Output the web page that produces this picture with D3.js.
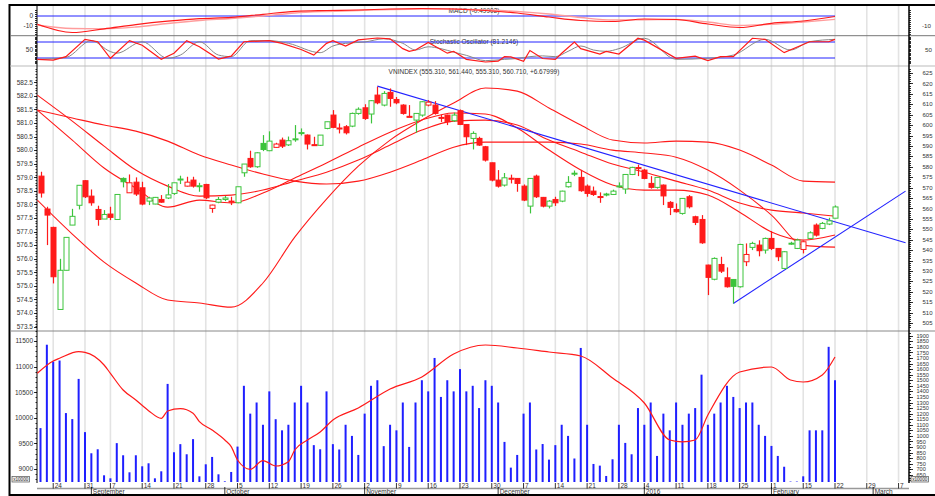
<!DOCTYPE html>
<html>
<head>
<meta charset="utf-8">
<script src="https://cdn.jsdelivr.net/npm/d3@7/dist/d3.min.js"></script>
<style>
  body { margin: 0; background: #fff; }
  text { font-family: "Liberation Sans", Arial, sans-serif; fill: #333; }
</style>
</head>
<body>
<svg id="chart" width="935" height="496"></svg>
<script>
// trading calendar (HOSE), holidays removed
const firstDay = "2015-08-20";
const lastDay = "2016-03-11";
const holidays = ["2015-09-02", "2016-01-01", "2016-02-08", "2016-02-09",
  "2016-02-10", "2016-02-11", "2016-02-12"];

// VNINDEX daily candles, one per trading day
const openP = [575.5,559.7,550.9,511.5,530.3,552.0,561.5,573.3,565.9,559.5,
  554.9,557.3,554.7,574.4,567.5,572.6,569.9,563.5,562.1,564.3,
  565.0,567.2,573.9,570.7,573.6,570.6,571.5,560.0,563.0,564.3,
  563.5,562.7,577.1,584.0,580.0,591.2,587.7,589.3,592.8,590.5,
  593.0,596.0,595.2,590.6,590.3,598.4,604.8,598.6,599.2,599.5,
  605.6,608.3,605.3,614.4,609.6,615.7,612.3,609.6,604.2,602.4,
  604.8,609.6,609.6,603.7,604.8,602.1,606.9,600.3,593.6,593.6,
  589.6,581.9,573.6,571.2,574.5,574.4,570.7,561.1,575.5,565.3,
  561.1,564.3,563.5,570.4,576.6,574.9,570.7,568.3,565.7,566.6,
  566.7,570.6,569.3,576.3,579.6,578.4,572.0,570.1,571.2,562.9,
  559.5,557.6,565.6,556.0,554.7,532.8,526.0,533.1,526.7,525.9,
  522.4,534.4,541.3,542.4,540.0,545.6,540.8,531.2,542.9,540.8,
  540.3,545.6,552.0,550.4,552.5,555.31];
const highP = [577.6,560.8,551.2,535.8,546.1,559.8,571.1,573.6,569.1,561.3,
  559.2,560.8,566.7,574.9,576.3,574.9,572.8,565.6,565.5,566.4,
  571.7,572.3,575.7,575.2,575.2,572.3,571.8,561.8,565.5,566.0,
  565.6,570.4,581.3,587.7,587.0,595.2,597.0,591.5,594.0,594.5,
  600.0,598.4,595.5,594.4,595.2,601.6,607.2,600.8,600.0,606.0,
  608.5,610.0,612.0,618.4,616.3,617.6,613.5,610.0,609.6,605.6,
  611.5,612.0,611.5,605.0,605.0,606.0,607.5,600.5,597.0,594.4,
  590.0,582.0,578.4,577.0,576.2,574.6,571.5,574.6,576.2,565.5,
  564.0,565.6,568.5,575.5,578.2,578.5,571.5,570.5,567.7,567.5,
  569.0,572.5,576.5,580.0,581.0,579.0,575.5,575.0,571.5,563.5,
  562.4,565.0,566.4,556.5,556.8,533.0,536.5,536.8,531.7,526.0,
  543.0,543.2,544.0,544.7,546.0,549.1,541.0,539.5,544.0,545.5,
  544.5,549.0,552.8,553.5,555.5,561.44];
const lowP = [565.2,542.4,524.0,511.5,530.3,552.0,559.5,565.0,561.3,551.7,
  554.9,554.4,554.7,570.1,567.5,566.0,561.5,561.6,562.0,562.7,
  564.5,566.5,571.7,570.5,570.0,568.0,564.5,557.9,562.5,563.5,
  561.6,562.5,575.2,579.5,579.5,587.5,587.5,589.0,589.0,590.0,
  592.0,595.0,588.3,590.0,590.0,598.0,598.5,596.0,595.5,599.0,
  605.0,602.5,600.8,610.0,609.0,608.8,610.0,605.0,603.8,596.3,
  604.0,609.0,605.0,601.5,600.0,601.5,600.0,590.4,588.3,590.0,
  582.5,573.0,570.0,570.5,572.0,568.0,563.5,557.6,565.0,560.5,
  560.0,561.2,563.0,570.0,575.5,568.0,565.6,566.0,562.7,565.8,
  566.5,570.0,567.0,576.0,575.5,574.0,569.5,569.5,561.6,556.8,
  558.0,557.0,560.0,552.0,543.0,518.4,525.5,529.0,522.0,514.4,
  522.0,532.3,540.0,537.0,538.3,540.0,534.7,531.0,542.5,540.5,
  538.4,545.5,546.5,550.0,552.0,555.31];
const closeP = [567.4,556.8,527.2,530.3,546.1,556.2,571.1,565.6,562.7,554.7,
  557.1,555.7,566.7,572.8,572.3,566.9,562.1,565.0,565.3,563.0,
  566.5,572.3,574.1,572.6,570.7,570.9,565.1,561.6,564.3,565.0,
  563.1,570.4,581.3,580.0,586.7,588.3,592.3,590.9,589.9,592.5,
  593.4,596.4,590.9,590.4,595.2,601.6,598.9,598.4,596.3,605.6,
  607.6,603.2,611.7,610.7,615.2,612.8,610.7,605.6,604.0,605.6,
  611.2,611.0,605.6,603.5,601.6,604.8,600.3,594.4,596.0,590.4,
  583.2,573.6,570.7,574.7,574.4,572.0,564.0,574.4,565.6,561.1,
  563.5,562.7,568.3,572.5,576.9,568.5,567.2,566.7,565.5,566.9,
  568.3,570.8,576.3,579.7,579.3,574.4,570.1,574.9,566.0,560.5,
  558.4,564.8,560.8,553.3,543.5,526.9,536.0,529.9,522.4,522.6,
  542.7,537.9,543.2,539.7,545.6,540.8,536.8,539.2,543.3,544.8,
  544.0,548.3,547.2,552.8,554.03,560.71];
// volume, x10000 shares
const volume = [1070,1819,1668,1677,1205,1151,1512,1034,844,880,
  646,619,935,826,673,826,727,754,619,682,
  1467,853,926,835,971,637,745,811,655,592,
  676,904,1450,1200,1300,1100,1400,1150,1050,1100,
  1300,1450,1300,917,880,1400,926,878,1100,1000,
  829,1200,1450,1500,908,1100,1050,1300,901,1300,
  1500,1400,1700,1350,1500,1400,1600,1400,1450,1250,
  1500,1450,1300,946,715,829,1200,1300,878,927,
  787,917,1100,1000,797,1790,1100,748,733,640,
  790,1100,937,835,1250,1100,1300,820,1200,1050,
  1300,1100,1200,1250,1550,1100,1200,1300,1450,1350,
  1250,1300,1300,1100,1000,910,820,723,590,590,
  637,1050,1050,1050,1800,1500];

// overlay curves read every 5 sessions (right price scale), first reading at the axis
const curveIdx = [-0.5,5,10,15,20,25,30,35,40,45,50,55,60,65,70,75,80,85,90,95,100,105,110,115,120,125];
const lineP = [564.0,547.7,534.2,524.2,516.0,514.6,512.6,524.2,546.2,564.5,580.3,592.8,602.4,
  610.6,617.8,616.3,608.2,600.0,592.8,591.4,592.3,591.8,588.0,580.8,573.1,572.6];
const lineA = [614.4,601.9,589.9,578.4,570.7,565.9,566.4,568.8,573.1,577.4,583.2,590.4,597.6,
  601.9,602.4,600.0,592.8,587.0,581.3,577.4,573.1,568.8,562.6,559.2,557.8,556.3];
const lineB = [607.2,603.4,600.0,597.1,592.3,585.6,580.8,576.5,573.1,571.7,573.1,577.4,583.2,
  589.4,591.8,591.8,591.8,590.9,588.0,586.6,584.6,578.4,568.8,556.8,542.4,541.4];
const lineC = [607.2,592.8,579.4,569.8,560.6,564.0,562.6,567.4,574.6,581.8,589.4,596.6,602.4,
  605.8,605.3,598.6,588.0,578.4,571.2,568.8,568.8,566.4,558.2,548.7,544.8,547.2];

// trend lines [session, price]
const trendDown = [[53, 618.7], [136.1, 543.5]];
const trendUp = [[109, 514.4], [136.1, 568.3]];

// MACD and signal
const macdLine = [-8.3,-16.5,-12.8,-8.6,-5.2,-2.6,-1.4,1.7,4.7,5.5,6,7,7.5,7,5.5,3,
  -1,-4.5,-5.5,-3,-3.5,-8,-11.5,-7.3,-5,-0.5];
const macdSignal = [-9,-12.5,-12.8,-11,-7.5,-4.5,-2.5,0,3,4.5,5.5,6.5,7,7,6,4.5,
  2,-1.5,-4,-3.8,-3.5,-6,-9.5,-8.3,-6,-3.3];

// stochastic %K and %D, read at turning points
const stochKIdx = [-0.5,2,4,7,9,11,14,16,19,21,23,25,28,30,32,36,38,41,43,45,46,48,50,53,55,57,
  58,59,61,64,65,67,70,72,73,74,76,77,79,81,82,84,85,88,89,91,94,95,100,103,105,107,109,112,
  114,117,121,124,125];
const stochK = [15,12,25,90,81,19,85,68,15,38,85,62,16,27,81,85,75,52,31,75,85,65,88,95,92,55,
  45,50,78,38,45,15,5,8,25,24,8,48,18,15,38,80,55,35,45,35,94,87,19,27,10,25,25,94,
  90,40,81,81,90];
const stochDIdx = [-0.5,4,8,11,12,16,20,22,25,28,30,33,36,39,44,46,48,51,54,57,59,61,63,65,67,
  70,73,75,77,79,81,83,85,87,89,91,95,100,105,109,114,118,121,125];
const stochD = [15,22,85,44,38,81,19,31,81,31,25,85,85,75,40,65,75,80,92,75,50,62,55,42,30,
  10,15,18,25,28,25,45,65,50,45,55,94,15,19,31,90,50,81,90];

// volume moving average (left volume scale)
const volMAIdx = [-0.5,2,3,6,7,10,11,13,15,17,19,20,22,24,25,27,29,30,31,33,35,37,39,40,42,44,46,
  50,55,60,65,70,75,80,85,90,95,99,101,103,105,110,115,118,120,123,125];
const volMA = [10870,11109,11162,11291,11279,11031,10869,10543,10348,10139,9990,10133,10178,
  10088,9924,9760,9566,9436,9176,8994,9162,9059,9143,9371,9566,9723,9957,10191,10562,10797,
  11246,11422,11363,11285,11207,10777,10289,9566,9530,9566,10055,10894,10992,10738,10699,
  10836,11187];

// axis label sets
const leftPriceTicks = d3.range(573.5, 582.51, 0.5);
const rightPriceTicks = d3.range(505, 625.1, 5);
const leftVolTicks = [9000, 9500, 10000, 10500, 11000, 11500];
const rightVolTicks = d3.range(650, 1901, 50);

const titles = {
  macd: "MACD (-0.49902)",
  stoch: "Stochastic Oscillator (81.2146)",
  price: "VNINDEX (555.310, 561.440, 555.310, 560.710, +6.67999)"
};

drawChart();

function drawChart() {
  const svg = d3.select("#chart");
  const plotL = 37, plotR = 909;
  const red = "#ff1a1a", green = "#3cc43c", blue = "#2323ff";

  const parse = d3.timeParse("%Y-%m-%d"), fmt = d3.timeFormat("%Y-%m-%d");
  const days = d3.timeDay.range(parse(firstDay), d3.timeDay.offset(parse(lastDay), 1))
    .filter(d => d.getDay() > 0 && d.getDay() < 6 && !holidays.includes(fmt(d)));

  const x = d3.scaleLinear().domain([0, 125]).range([40.5, 835]);
  const lastX = x(125);

  // panel scales
  const yMacd = d3.scaleLinear().domain([-10, 0]).range([26, 16]);
  const yStoch = d3.scaleLinear().domain([20, 80]).range([58, 42]);
  const yPrice = d3.scaleLinear().domain([505, 625]).range([323, 73]);
  const yLeft = d3.scaleLinear().domain([573.5, 582.5]).range([326.6, 82.3]);
  const yVol = d3.scaleLinear().domain([700, 1900]).range([469.3, 335.7]);
  const yVolMA = d3.scaleLinear().domain([9000, 11500]).range([469, 341]);
  const volBase = 482;

  // week grid
  const weekStarts = [], monthStarts = [];
  days.forEach((d, i) => {
    if (i === 0) return;
    if (d3.timeMonday.floor(d) > days[i - 1]) weekStarts.push(i);
    if (d.getMonth() !== days[i - 1].getMonth()) monthStarts.push(i);
  });
  const visibleWeeks = weekStarts.filter(i => x(i) < plotR - 2);

  svg.append("g").selectAll("line")
    .data(visibleWeeks)
    .join("line")
    .attr("x1", d => x(d)).attr("x2", d => x(d))
    .attr("y1", 6).attr("y2", volBase)
    .style("stroke", "#e3e3e3")
    .style("stroke-width", 1.6);

  // frame and separators
  const frame = svg.append("g");
  frame.append("line").attr("x1", 9).attr("x2", 935).attr("y1", 5).attr("y2", 5)
    .style("stroke", "#000").style("stroke-width", 2);
  frame.append("line").attr("x1", 9.5).attr("x2", 9.5).attr("y1", 4).attr("y2", 496)
    .style("stroke", "#000").style("stroke-width", 2);
  frame.append("line").attr("x1", 9).attr("x2", 935).attr("y1", 495).attr("y2", 495)
    .style("stroke", "#000").style("stroke-width", 2);
  [[35.7, "#777"], [66, "#bbb"], [331, "#888"]].forEach(([y, c]) => {
    frame.append("line").attr("x1", 10).attr("x2", 935).attr("y1", y).attr("y2", y)
      .style("stroke", c).style("stroke-width", 1);
  });

  // axes lines with dense ticks
  const axes = svg.append("g").style("stroke", "#000");
  axes.append("line").attr("x1", plotL).attr("x2", plotL).attr("y1", 5).attr("y2", 483);
  axes.append("line").attr("x1", plotR).attr("x2", plotR).attr("y1", 5).attr("y2", 483)
    .style("stroke-width", 1.5);

  function ticks(values, scale, side, len) {
    axes.append("g").selectAll("line")
      .data(values)
      .join("line")
      .attr("x1", side === "left" ? plotL - len : plotR)
      .attr("x2", side === "left" ? plotL : plotR + len)
      .attr("y1", d => Math.round(scale(d)) + 0.5)
      .attr("y2", d => Math.round(scale(d)) + 0.5)
      .style("stroke-width", 0.8);
  }
  ticks(d3.range(-18, 6.1, 2), yMacd, "left", 2);
  ticks(d3.range(0, 101, 5), yStoch, "left", 2);
  ticks(d3.range(573.5, 583.01, 0.1), yLeft, "left", 1.5);
  ticks(leftPriceTicks, yLeft, "left", 3);
  ticks(d3.range(8800, 11801, 100), yVolMA, "left", 1.5);
  ticks(leftVolTicks, yVolMA, "left", 3);
  ticks(d3.range(-18, 6.1, 2), yMacd, "right", 2);
  ticks(d3.range(0, 101, 5), yStoch, "right", 2);
  ticks(d3.range(503, 628, 1), yPrice, "right", 2);
  ticks(rightPriceTicks, yPrice, "right", 4);
  ticks(d3.range(600, 1926, 25), yVol, "right", 2);
  ticks(rightVolTicks, yVol, "right", 4);

  // axis labels
  const labels = svg.append("g").style("font-size", "6.5px");
  function leftLabels(values, scale, fmtFn) {
    labels.append("g").selectAll("text")
      .data(values)
      .join("text")
      .attr("x", 33).attr("y", d => scale(d) + 2.3)
      .attr("text-anchor", "end")
      .text(fmtFn);
  }
  leftLabels([0, -10], yMacd, d => d);
  leftLabels([50], yStoch, d => d);
  leftLabels(leftPriceTicks, yLeft, d => d3.format(".1f")(d));
  leftLabels(leftVolTicks, yVolMA, d => d);

  function rightLabels(values, scale, xPos, size) {
    labels.append("g").selectAll("text")
      .data(values)
      .join("text")
      .attr("x", xPos).attr("y", d => scale(d) + 2.1)
      .style("font-size", size)
      .text(d => d);
  }
  rightLabels([-10], yMacd, 922, "6.2px");
  rightLabels([50], yStoch, 925, "6.2px");
  rightLabels(rightPriceTicks, yPrice, 922.5, "6px");
  rightLabels(rightVolTicks, yVol, 916.5, "5.6px");

  // x10000 boxes
  [[12, 476.5], [911, 476.5]].forEach(([bx, by]) => {
    labels.append("rect").attr("x", bx).attr("y", by).attr("width", 17.5).attr("height", 5.5)
      .style("fill", "#eee").style("stroke", "#555").style("stroke-width", 0.7);
    labels.append("text").attr("x", bx + 8.75).attr("y", by + 4.5)
      .attr("text-anchor", "middle").style("font-size", "4.6px").text("x10000");
  });

  // panel titles
  labels.append("text").attr("x", 474).attr("y", 12.5).attr("text-anchor", "middle").text(titles.macd);
  labels.append("text").attr("x", 474).attr("y", 43.5).attr("text-anchor", "middle").text(titles.stoch);
  labels.append("text").attr("x", 474).attr("y", 73.5).attr("text-anchor", "middle").text(titles.price);

  // date axis
  const dateAxis = svg.append("g");
  dateAxis.append("line").attr("x1", plotL).attr("x2", plotR).attr("y1", 488.5).attr("y2", 488.5)
    .style("stroke", "#999").style("stroke-width", 1.5);
  dateAxis.selectAll(".wk")
    .data(visibleWeeks)
    .join("line")
    .attr("x1", d => x(d)).attr("x2", d => x(d))
    .attr("y1", 483).attr("y2", 488.5)
    .style("stroke", "#000").style("stroke-width", 0.8);
  dateAxis.selectAll(".wkText")
    .data(visibleWeeks)
    .join("text")
    .attr("x", d => x(d) + 1.5).attr("y", 488)
    .style("font-size", "6.5px")
    .text(d => days[d].getDate());
  const monthName = d3.timeFormat("%B");
  const visibleMonths = monthStarts.filter(i => x(i) < plotR);
  dateAxis.selectAll(".mo")
    .data(visibleMonths)
    .join("line")
    .attr("x1", d => x(d)).attr("x2", d => x(d))
    .attr("y1", 487).attr("y2", 495)
    .style("stroke", "#000").style("stroke-width", 0.8);
  dateAxis.selectAll(".moText")
    .data(visibleMonths)
    .join("text")
    .attr("x", d => x(d) + 1.5).attr("y", 494)
    .style("font-size", "6.5px")
    .text(d => days[d].getMonth() === 0 ? days[d].getFullYear() : monthName(days[d]));

  // reference lines
  const refs = svg.append("g").style("stroke", blue).style("stroke-width", 1);
  [[yMacd, 0], [yStoch, 80], [yStoch, 20]].forEach(([s, v]) => {
    refs.append("line").attr("x1", plotL).attr("x2", lastX)
      .attr("y1", s(v)).attr("y2", s(v));
  });

  // MACD
  const macdPath = d3.line().x((d, i) => x(curveIdx[i])).curve(d3.curveMonotoneX);
  svg.append("path").datum(macdSignal)
    .attr("d", macdPath.y(d => yMacd(d)))
    .style("fill", "none").style("stroke", "#ff9c9c").style("stroke-width", 1.3);
  svg.append("path").datum(macdLine)
    .attr("d", macdPath.y(d => yMacd(d)))
    .style("fill", "none").style("stroke", red).style("stroke-width", 1.2);

  // stochastic
  svg.append("path").datum(stochD)
    .attr("d", d3.line().x((d, i) => x(stochDIdx[i])).y(d => yStoch(d)).curve(d3.curveMonotoneX))
    .style("fill", "none").style("stroke", "#888").style("stroke-width", 1);
  svg.append("path").datum(stochK)
    .attr("d", d3.line().x((d, i) => x(stochKIdx[i])).y(d => yStoch(d)))
    .style("fill", "none").style("stroke", red).style("stroke-width", 1.2);

  // price panel
  svg.append("clipPath").attr("id", "priceClip")
    .append("rect").attr("x", plotL).attr("y", 67).attr("width", plotR - plotL).attr("height", 263);
  const price = svg.append("g").attr("clip-path", "url(#priceClip)");

  const overlay = d3.line().x((d, i) => x(curveIdx[i])).y(d => yPrice(d)).curve(d3.curveMonotoneX);
  [lineP, lineA, lineB, lineC].forEach(arr => {
    price.append("path").datum(arr).attr("d", overlay)
      .style("fill", "none").style("stroke", red).style("stroke-width", 1.1);
  });

  [trendDown, trendUp].forEach(t => {
    price.append("line")
      .attr("x1", x(t[0][0])).attr("y1", yPrice(t[0][1]))
      .attr("x2", x(t[1][0])).attr("y2", yPrice(t[1][1]))
      .style("stroke", blue).style("stroke-width", 1.1);
  });

  const candles = closeP.map((c, i) => {
    const prev = i > 0 ? closeP[i - 1] : openP[i];
    return { i, o: openP[i], h: highP[i], l: lowP[i], c,
      color: c >= prev ? green : red, filled: c < openP[i] };
  });
  const cg = price.append("g").selectAll("g")
    .data(candles)
    .join("g");
  cg.append("line")
    .attr("x1", d => Math.round(x(d.i)) + 0.5).attr("x2", d => Math.round(x(d.i)) + 0.5)
    .attr("y1", d => yPrice(d.h)).attr("y2", d => yPrice(d.l))
    .style("stroke", d => d.color).style("stroke-width", 1.2);
  cg.append("rect")
    .attr("x", d => Math.round(x(d.i)) - 2)
    .attr("y", d => yPrice(Math.max(d.o, d.c)))
    .attr("width", 5)
    .attr("height", d => Math.max(1, Math.abs(yPrice(d.o) - yPrice(d.c))))
    .style("fill", d => d.filled ? d.color : "#fff")
    .style("stroke", d => d.color).style("stroke-width", 1);

  // volume panel
  svg.append("g").selectAll("rect")
    .data(volume)
    .join("rect")
    .attr("x", (d, i) => x(i) - 1)
    .attr("y", d => yVol(d))
    .attr("width", 2)
    .attr("height", d => volBase - yVol(d))
    .style("fill", "#1f1fff");

  svg.append("path").datum(volMA)
    .attr("d", d3.line().x((d, i) => x(volMAIdx[i])).y(d => yVolMA(d)).curve(d3.curveMonotoneX))
    .style("fill", "none").style("stroke", red).style("stroke-width", 1.2);
}
</script>
</body>
</html>
